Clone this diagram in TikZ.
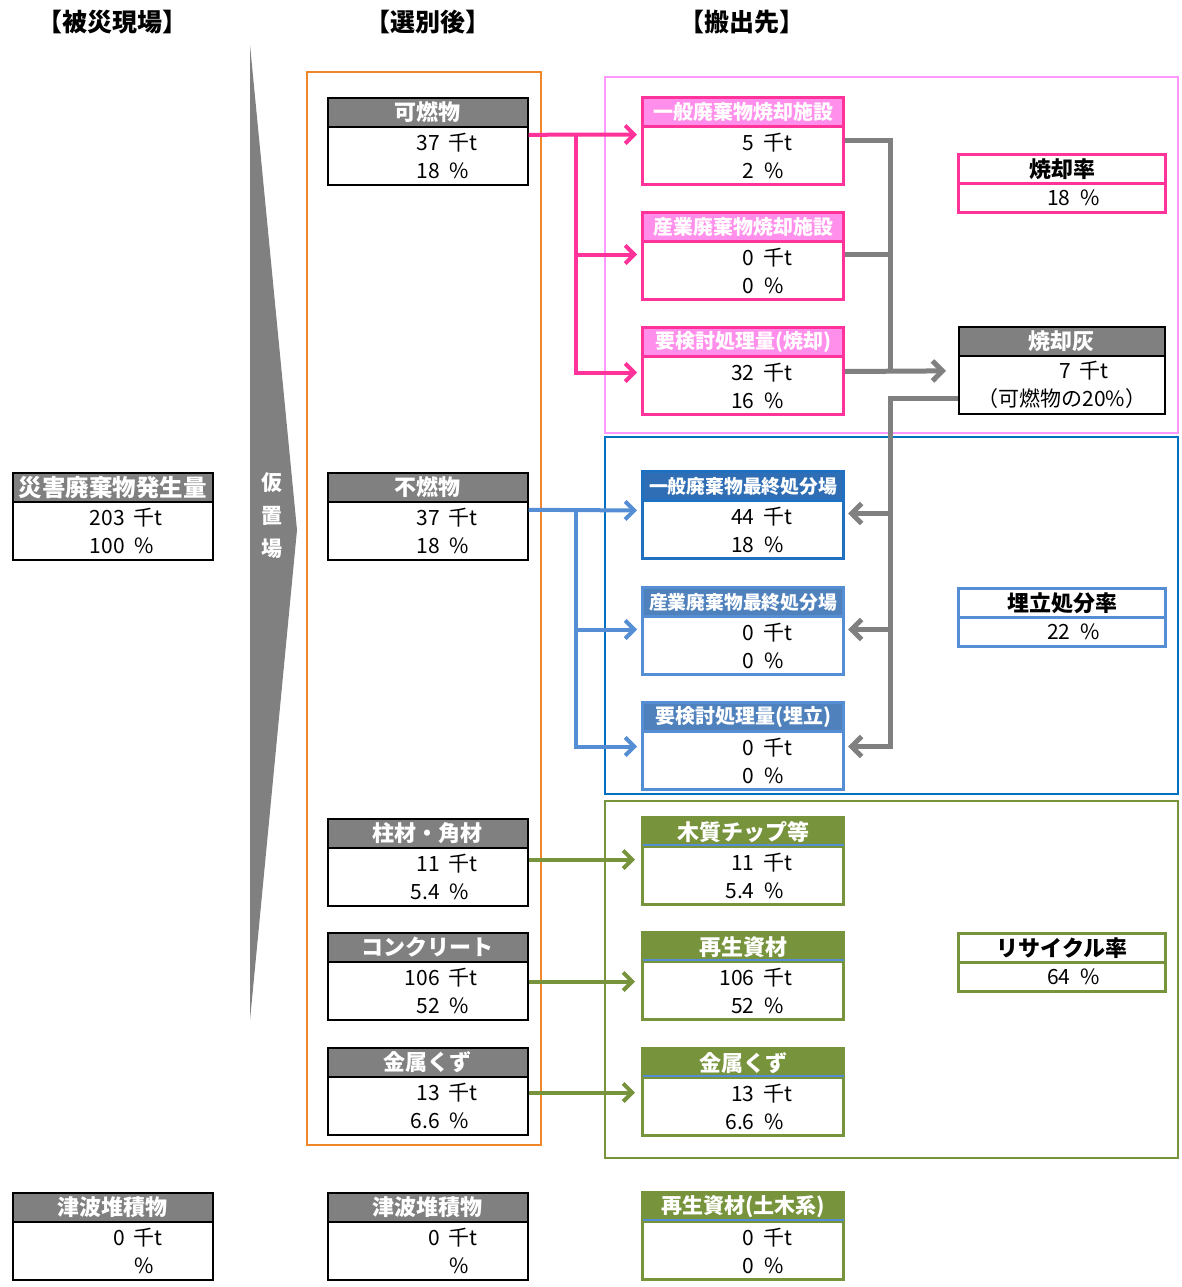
\documentclass[tikz,border=0pt]{standalone}
\usepackage{fontspec}
\newfontfamily\jp{Noto Sans CJK JP}
\usetikzlibrary{arrows.meta,calc}
\definecolor{hdgray}{HTML}{808080}
\definecolor{pinkc}{HTML}{FF3399}
\definecolor{pinkfill}{HTML}{FF8FEB}
\definecolor{pinkthin}{HTML}{FF99FF}
\definecolor{bluec}{HTML}{558ED5}
\definecolor{bluedark}{HTML}{1F70C1}
\definecolor{bluehdr}{HTML}{4F81BD}
\definecolor{bluehdrdark}{HTML}{2F6EB5}
\definecolor{blueframe}{HTML}{0070C0}
\definecolor{greenc}{HTML}{77933C}
\definecolor{orangec}{HTML}{F0862A}
\newcommand{\twoval}[2]{\makebox[112pt][r]{#1}\hspace{9pt}千t\\\makebox[112pt][r]{#2}\hspace{10pt}\%}
\newcommand{\oneval}[1]{\makebox[112pt][r]{#1}\hspace{10pt}\%}
\newcommand{\infobox}[8]{%
  \node[hdr,#5,minimum width=#4pt] (#1h) at (#2,#3) {#6};
  \node[bdy,#7,text width=#4pt] (#1) at (#2,#3+29) {#8};
}
\tikzset{
  hdr/.style={draw, line width=1.6pt, inner sep=0pt, minimum height=29pt, anchor=north west, text=white, font=\jp\bfseries\fontsize{22}{22}\selectfont},
  bdy/.style={draw, line width=1.6pt, inner sep=0pt, minimum height=58pt, anchor=north west, align=left, font=\jp\fontsize{21}{28}\selectfont},
  smallhdr/.style={font=\jp\bfseries\fontsize{20}{20}\selectfont},
  tinyhdr/.style={font=\jp\bfseries\fontsize{18.8}{18.8}\selectfont},
  grayh/.style={fill=hdgray, draw=black},
  grayb/.style={draw=black},
  pinkh/.style={fill=pinkfill, draw=pinkc, line width=3pt, smallhdr},
  pinkb/.style={draw=pinkc, line width=3pt},
  blueh/.style={fill=bluehdr, draw=bluec, line width=3pt, smallhdr},
  blueb/.style={draw=bluec, line width=3pt},
  bluehd/.style={fill=bluehdrdark, draw=bluedark, line width=3pt, smallhdr},
  bluebd/.style={draw=bluedark, line width=3pt},
  greenh/.style={fill=greenc, draw=greenc, line width=3pt},
  greenb/.style={draw=greenc, line width=3pt},
  rateh/.style={fill=white, text=black, line width=3pt},
  rateb/.style={line width=3pt, minimum height=29pt},
  arr/.style={line width=4pt, -{Straight Barb[length=9pt,width=18pt]}},
  pinkarr/.style={arr, draw=pinkc},
  bluearr/.style={arr, draw=bluec},
  greenarr/.style={arr, draw=greenc},
  gline/.style={draw=hdgray, line width=5pt},
  garr/.style={gline, -{Straight Barb[length=10pt,width=20pt]}},
  frame/.style={line width=1.3pt},
  title/.style={font=\jp\bfseries\fontsize{25}{25}\selectfont, text=black},
  blueline/.style={draw=bluec, line width=2pt}
}
\begin{document}
\begin{tikzpicture}[x=1pt,y=-1pt]
\useasboundingbox (0,0) rectangle (1182,1287);
% titles
\node[title] (t1) at (112,22) {【被災現場】};
\node[title] (t2) at (428,22) {【選別後】};
\node[title] (t3) at (742,22) {【搬出先】};
% frames
\draw[frame, draw=orangec] (307,72) rectangle (541,1145);
\draw[frame, draw=pinkthin] (605,77) rectangle (1178,433);
\draw[frame, draw=blueframe] (605,437) rectangle (1178,794);
\draw[frame, draw=greenc] (605,801) rectangle (1178,1158);
% big gray arrow
\fill[hdgray] (250,45) -- (297,530) -- (250,1020) -- cycle;
\node[font=\jp\bfseries\fontsize{21}{33}\selectfont, text=white, align=center] (kari) at (272,516) {仮\\置\\場};
% left column
\infobox{src}{12}{472}{200}{grayh,font=\jp\bfseries\fontsize{23.5}{23.5}\selectfont}{災害廃棄物発生量}{grayb}{\twoval{203}{100}}
\infobox{tsuL}{12}{1192}{200}{grayh}{津波堆積物}{grayb}{\twoval{0}{}}
% middle column
\infobox{kanen}{327}{97}{200}{grayh}{可燃物}{grayb}{\twoval{37}{18}}
\infobox{funen}{327}{472}{200}{grayh}{不燃物}{grayb}{\twoval{37}{18}}
\infobox{hashira}{327}{818}{200}{grayh}{柱材・角材}{grayb}{\twoval{11}{5.4}}
\infobox{conc}{327}{932}{200}{grayh}{コンクリート}{grayb}{\twoval{106}{52}}
\infobox{metal}{327}{1047}{200}{grayh}{金属くず}{grayb}{\twoval{13}{6.6}}
\infobox{tsuM}{327}{1192}{200}{grayh}{津波堆積物}{grayb}{\twoval{0}{}}
% right column: incineration
\infobox{pk1}{641}{96}{201}{pinkh}{一般廃棄物焼却施設}{pinkb}{\twoval{5}{2}}
\infobox{pk2}{641}{211}{201}{pinkh}{産業廃棄物焼却施設}{pinkb}{\twoval{0}{0}}
\infobox{pk3}{641}{326}{201}{pinkh}{要検討処理量(焼却)}{pinkb}{\twoval{32}{16}}
% landfill
\infobox{bl1}{641}{470}{201}{bluehd,tinyhdr}{一般廃棄物最終処分場}{bluebd}{\twoval{44}{18}}
\infobox{bl2}{641}{586}{201}{blueh,tinyhdr}{産業廃棄物最終処分場}{blueb}{\twoval{0}{0}}
\infobox{bl3}{641}{701}{201}{blueh}{要検討処理量(埋立)}{blueb}{\twoval{0}{0}}
% recycling
\infobox{gr1}{641}{816}{201}{greenh}{木質チップ等}{greenb}{\twoval{11}{5.4}}
\infobox{gr2}{641}{931}{201}{greenh}{再生資材}{greenb}{\twoval{106}{52}}
\infobox{gr3}{641}{1047}{201}{greenh}{金属くず}{greenb}{\twoval{13}{6.6}}
\infobox{gr4}{641}{1191}{201}{greenh,font=\jp\bfseries\fontsize{21}{21}\selectfont}{再生資材(土木系)}{greenb}{\twoval{0}{0}}
\foreach \g in {gr1,gr2,gr3,gr4} {\draw[blueline] ([xshift=1.5pt]\g.north west) -- ([xshift=-1.5pt]\g.north east);}
% rate boxes and ash
\infobox{rate1}{957}{153}{207}{rateh,draw=pinkc}{焼却率}{rateb,draw=pinkc}{\oneval{18}}
\infobox{ash}{958}{326}{206}{grayh}{焼却灰}{grayb}{\makebox[112pt][r]{7}\hspace{9pt}千t\\\makebox[206pt][c]{（可燃物の20\%）}}
\infobox{rate2}{957}{587}{207}{rateh,draw=bluec}{埋立処分率}{rateb,draw=bluec}{\oneval{22}}
\infobox{rate3}{957}{932}{207}{rateh,draw=greenc}{リサイクル率}{rateb,draw=greenc}{\oneval{64}}
% pink arrows
\coordinate (pj) at (576,133);
\draw[pinkarr, shorten >=4pt] ([yshift=21pt]kanen.east) -- ([yshift=21pt]pk1.west);
\draw[pinkarr, shorten >=4pt] (pj) |- ([yshift=16pt]pk2.west);
\draw[pinkarr, shorten >=4pt] (pj) |- ([yshift=13pt]pk3.west);
% blue arrows
\coordinate (bj) at (576,509);
\draw[bluearr, shorten >=4pt] ([yshift=21pt]funen.east) -- ([yshift=19pt]bl1.west);
\draw[bluearr, shorten >=4pt] (bj) |- ([yshift=16pt]bl2.west);
\draw[bluearr, shorten >=4pt] (bj) |- ([yshift=14pt]bl3.west);
% green arrows
\draw[greenarr, shorten >=6pt] ([yshift=16pt]gr1.west -| hashira.east) -- ([yshift=16pt]gr1.west);
\draw[greenarr, shorten >=6pt] ([yshift=9pt]gr2.west -| conc.east) -- ([yshift=9pt]gr2.west);
\draw[greenarr, shorten >=6pt] ([yshift=14pt]gr3.west -| metal.east) -- ([yshift=14pt]gr3.west);
% gray connectors
\coordinate (gj) at (890,370);
\draw[gline] ([yshift=15pt]pk1.east) -| (gj);
\draw[gline] ([yshift=16pt]pk2.east) -- ([yshift=16pt]pk2.east -| gj);
\draw[garr, shorten >=12pt] ([yshift=14pt]pk3.east) -- ([yshift=14pt]ash.west);
\draw[garr, shorten >=3pt] ([yshift=-14pt]ash.west) -| ([yshift=14pt]bl3.east -| gj) -- ([yshift=14pt]bl3.east);
\draw[garr, shorten >=3pt] ([yshift=16pt]bl1.east -| gj) -- ([yshift=16pt]bl1.east);
\draw[garr, shorten >=3pt] ([yshift=16pt]bl2.east -| gj) -- ([yshift=16pt]bl2.east);
\end{tikzpicture}
\end{document}
